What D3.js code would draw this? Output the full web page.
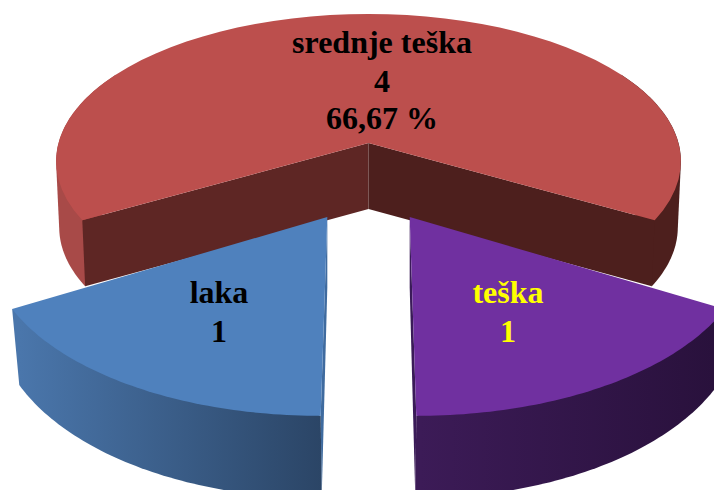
<!DOCTYPE html>
<html>
<head>
<meta charset="utf-8">
<script src="https://cdn.jsdelivr.net/npm/d3@7"></script>
<style>
    html, body { margin: 0; padding: 0; background: #fff; overflow: hidden; }
    svg { display: block; }
    text { font-family: "Liberation Serif", serif; font-weight: bold; font-size: 32px; text-anchor: middle; }
</style>
</head>
<body>
<div id="pie"></div>
<script>
const categories = ['srednje teška', 'teška', 'laka'];
const counts = [4, 1, 1];
const percentLabels = ['66,67 %', null, null];

const width = 714,
    height = 490;

// perspective of the tilted disc, fitted by eye
const cx = 368.5,
    cy = 143,
    scaleX = 310,
    scaleY = 145,
    persp = 0.124,
    wallDepth = 66,
    wallGrowth = 70;

const explodeX = 0.25,
    explodeY = 0.554,
    frontRadiusX = 1.018,
    frontRadiusY = 1.046;

const topColors = ['#bc4f4d', '#7030a0', '#4f81bd'];
const labelColors = ['#000', '#ffff00', '#000'];
const labelAnchors = [[382, 53], [508, 303], [219, 303]];
const lineSteps = [[0, 39, 76], [0, 39], [0, 39]];

let svg = d3.select('#pie').append('svg')
    .attr('width', width)
    .attr('height', height);

let defs = svg.append('defs');

function addGradient(id, x1, x2, from, to) {
    let g = defs.append('linearGradient')
        .attr('id', id)
        .attr('gradientUnits', 'userSpaceOnUse')
        .attr('x1', x1).attr('x2', x2)
        .attr('y1', 0).attr('y2', 0);
    g.append('stop').attr('offset', 0).attr('stop-color', from);
    g.append('stop').attr('offset', 1).attr('stop-color', to);
}
addGradient('blueWall', 20, 322, '#4a76ab', '#2b4566');
addGradient('purpleWall', 420, 714, '#3c1b57', '#29113c');

const pie = d3.pie()
    .sort(null)
    .startAngle(-2 * Math.PI / 3)
    .endAngle(4 * Math.PI / 3);

const arcs = pie(counts);
const line = d3.line();

// plane coords -> screen, depth 0 is the top face, 1 the bottom face
function project(px, py, depth, growth, shrink) {
    let w = 1 - persp * py;
    let x = scaleX * px / w;
    let y = scaleY * py / w;
    if (depth) {
        x *= shrink;
        y += wallDepth + growth * (1 / w - 1);
    }
    return [cx + x, cy + y];
}

function sliceGeom(d) {
    let front = d.index > 0;
    let mid = (d.startAngle + d.endAngle) / 2;
    let ox = front ? explodeX * Math.sin(mid) : 0;
    let oy = front ? -explodeY * Math.cos(mid) : 0;
    let rx = front ? frontRadiusX : 1;
    let ry = front ? frontRadiusY : 1;
    let growth = front ? wallGrowth : 0;
    let shrink = front ? 0.98 : 0.99;
    return {
        // the apex keeps its x so the gap side of a slice stays a thin sliver
        apex: depth => project(ox, oy, depth, growth, 1),
        rim: (a, depth) => project(ox + rx * Math.sin(a), oy - ry * Math.cos(a), depth, growth, shrink)
    };
}

function rimPoints(geom, a0, a1, depth) {
    return d3.range(0, 61).map(i => geom.rim(a0 + (a1 - a0) * i / 60, depth));
}

// hull, so the silhouette runs straight from the widest top point to the widest bottom point
function wall(geom, a0, a1) {
    return line(d3.polygonHull(rimPoints(geom, a0, a1, 0).concat(rimPoints(geom, a0, a1, 1)))) + 'Z';
}

function topFace(geom, a0, a1) {
    return line([geom.apex(0)].concat(rimPoints(geom, a0, a1, 0))) + 'Z';
}

function sideWall(geom, a) {
    return line([geom.apex(0), geom.apex(1), geom.rim(a, 1), geom.rim(a, 0)]) + 'Z';
}

// red slice, back to front
const red = arcs[0],
    redGeom = sliceGeom(red);
svg.append('path').attr('d', wall(redGeom, red.startAngle, -Math.PI / 3)).attr('fill', '#a84a48');
svg.append('path').attr('d', wall(redGeom, Math.PI / 3, red.endAngle)).attr('fill', '#4d1f1d');
svg.append('path').attr('d', sideWall(redGeom, red.startAngle)).attr('fill', '#5e2624');
svg.append('path').attr('d', sideWall(redGeom, red.endAngle)).attr('fill', '#4d1f1d');
svg.append('path').attr('d', topFace(redGeom, red.startAngle, red.endAngle)).attr('fill', topColors[0]);

// the two pulled out slices
const frontWalls = ['url(#purpleWall)', 'url(#blueWall)'];
const sideColors = ['#3a1b58', '#3f6b9f'];

arcs.slice(1).forEach((d, i) => {
    let geom = sliceGeom(d);
    let inner = i === 0 ? d.endAngle : d.startAngle;
    svg.append('path').attr('d', sideWall(geom, inner)).attr('fill', sideColors[i]);
    svg.append('path').attr('d', wall(geom, d.startAngle, d.endAngle)).attr('fill', frontWalls[i]);
    svg.append('path').attr('d', topFace(geom, d.startAngle, d.endAngle)).attr('fill', topColors[d.index]);
});

// labels
let labels = svg.append('g')
    .selectAll('text')
    .data(arcs)
    .enter().append('text')
    .attr('x', d => labelAnchors[d.index][0])
    .attr('y', d => labelAnchors[d.index][1])
    .attr('fill', d => labelColors[d.index]);

labels.each(function (d) {
    let rows = [categories[d.index], d.value];
    if (percentLabels[d.index]) rows.push(percentLabels[d.index]);
    d3.select(this).selectAll('tspan')
        .data(rows)
        .enter().append('tspan')
        .attr('x', labelAnchors[d.index][0])
        .attr('y', (r, j) => labelAnchors[d.index][1] + lineSteps[d.index][j])
        .text(r => r);
});
</script>
</body>
</html>
